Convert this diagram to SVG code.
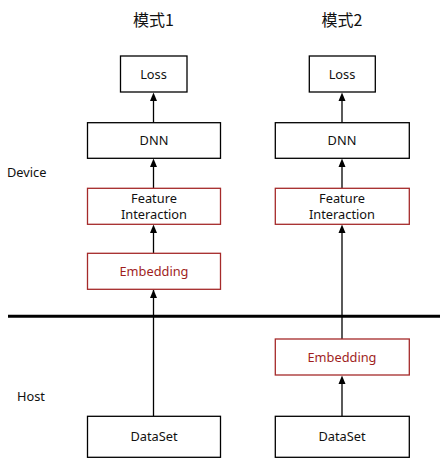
<svg xmlns="http://www.w3.org/2000/svg" width="447" height="467" viewBox="0 0 447 467">
<style>
text{font-family:"Noto Sans","Noto Sans CJK SC",sans-serif;font-size:12.8px;fill:#111;text-anchor:middle}
.b{fill:#fff;stroke:#000;stroke-width:1.3}
.r{fill:#fff;stroke:#a52a2a;stroke-width:1.3}
.rt{fill:#a01e1e}
.lbl{text-anchor:start}
.t{font-family:"Noto Sans CJK SC",sans-serif;font-size:16px}
.c{stroke:#000;stroke-width:1.3;fill:none}
</style>
<text class="t" x="153.5" y="26">模式1</text>
<text class="t" x="342" y="26">模式2</text>
<text class="lbl" x="7" y="177">Device</text>
<text class="lbl" x="17" y="401">Host</text>
<line x1="8" y1="316.3" x2="440" y2="316.3" stroke="#000" stroke-width="3"/>
<g id="connectors">
<path class="c" d="M153.5,416 V290"/>
<path d="M150,298 L153.5,289.5 L157,298 Z"/>
<path class="c" d="M153.5,253 V233"/>
<path d="M150,233 L153.5,224.5 L157,233 Z"/>
<path class="c" d="M153.5,188 V167"/>
<path d="M150,167 L153.5,158.5 L157,167 Z"/>
<path class="c" d="M153.5,122.7 V101"/>
<path d="M150,101 L153.5,92.5 L157,101 Z"/>
<path class="c" d="M342,416 V383"/>
<path d="M338.5,384 L342,375.5 L345.5,384 Z"/>
<path class="c" d="M342,339 V233"/>
<path d="M338.5,233 L342,224.5 L345.5,233 Z"/>
<path class="c" d="M342,188 V167"/>
<path d="M338.5,167 L342,158.5 L345.5,167 Z"/>
<path class="c" d="M342,122.7 V101"/>
<path d="M338.5,101 L342,92.5 L345.5,101 Z"/>
</g>
<g id="loss1"><rect class="b" x="120.5" y="56" width="66.5" height="36"/><text x="153.5" y="78.5">Loss</text></g>
<g id="dnn1"><rect class="b" x="87.5" y="122.7" width="133" height="35.6"/><text x="154" y="145">DNN</text></g>
<g id="fi1"><rect class="r" x="87.5" y="188.3" width="133" height="36"/><text x="154" y="203">Feature<tspan x="154" dy="16">Interaction</tspan></text></g>
<g id="emb1"><rect class="r" x="87.5" y="253.3" width="133" height="36"/><text class="rt" x="154" y="276">Embedding</text></g>
<g id="ds1"><rect class="b" x="87.5" y="416.3" width="133" height="41"/><text x="154" y="441">DataSet</text></g>
<g id="loss2"><rect class="b" x="309.3" y="56" width="66" height="36"/><text x="342" y="78.5">Loss</text></g>
<g id="dnn2"><rect class="b" x="275.3" y="122.7" width="134" height="35.6"/><text x="342" y="145">DNN</text></g>
<g id="fi2"><rect class="r" x="275.3" y="188.3" width="134" height="36"/><text x="342" y="203">Feature<tspan x="342" dy="16">Interaction</tspan></text></g>
<g id="emb2"><rect class="r" x="275.3" y="339" width="134" height="36"/><text class="rt" x="342" y="361.5">Embedding</text></g>
<g id="ds2"><rect class="b" x="275.3" y="416.3" width="134" height="41"/><text x="342" y="441">DataSet</text></g>
</svg>
